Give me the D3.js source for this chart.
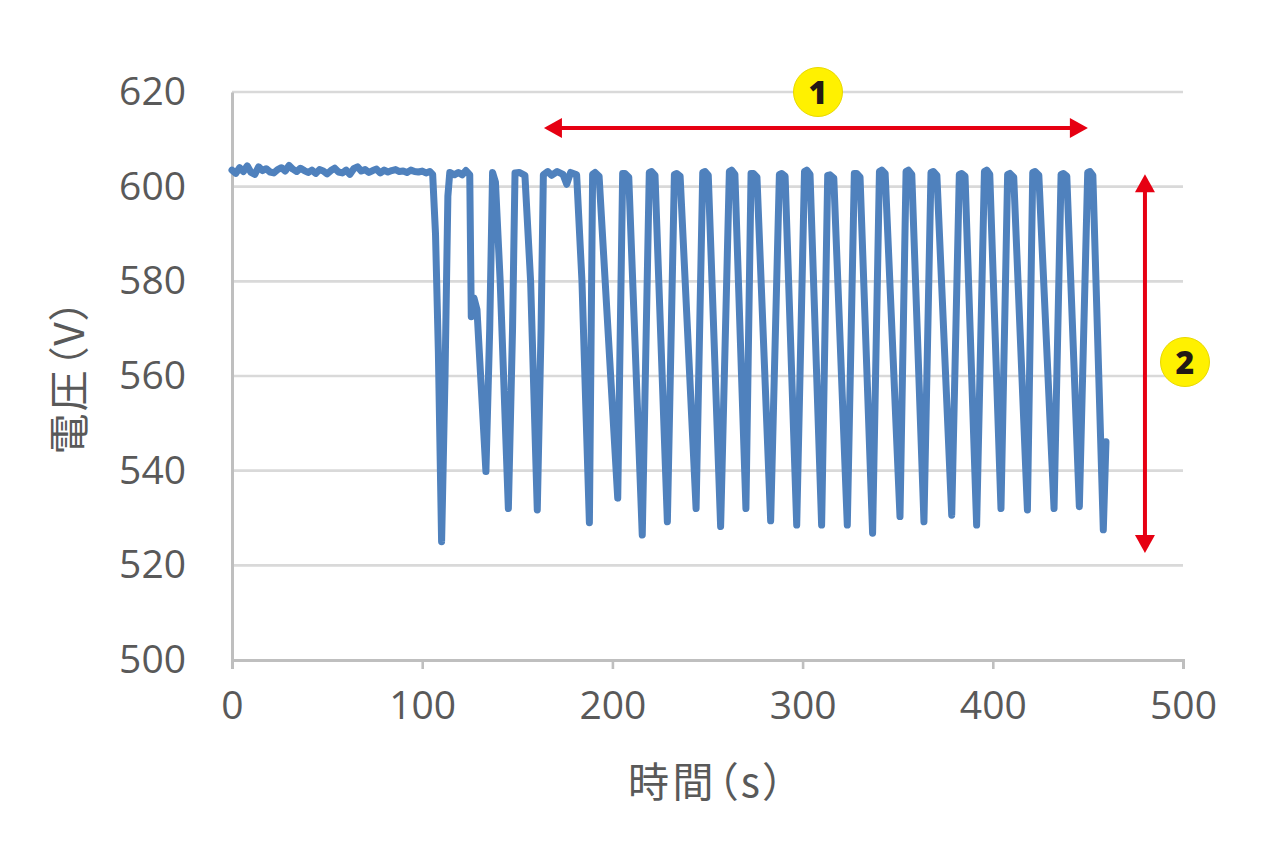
<!DOCTYPE html>
<html><head><meta charset="utf-8">
<script src="https://cdn.jsdelivr.net/npm/d3@7"></script>
<style>body{margin:0;background:#fff}</style>
</head><body>
<svg id="c" width="1272" height="864"></svg>
<script>
// ---- data ----
const xTicks = [0, 100, 200, 300, 400, 500];
const yTicks = [500, 520, 540, 560, 580, 600, 620];
const xTitle = "時間（s）";
const yTitle = "電圧（V）";

const timeS = [
  0,2,4,6,8,10,12,14,16,18,20,22,24,26,28,30,32,34,36,38,40,42,44,46,48,50,
  52,54,56,58,60,62,64,66,68,70,72,74,76,78,80,82,84,86,88,90,92,94,96,98,100,102,104,
  105.5,107,108.5,110.2,112,113.5,114.5,117,119,121,123,125,125.8,127.2,128.8,131,133.5,135.5,
  137,138.5,141,145.3,147.5,148.8,151,154,157,160.5,162.5,163.7,166,168,171,174,176,178,181.2,184,187.9,
  189.6,190.9,193,202.8,
  205.4,206.6,208.6,215.7,
  219.4,220.6,222.4,228.9,
  232.6,233.8,235.6,244.0,
  247.5,248.7,250.4,256.9,
  261.5,262.7,264.4,270.2,
  272.9,274.1,276.0,283.2,
  287.8,289.0,290.8,296.9,
  301.0,302.2,303.9,310.0,
  313.2,314.4,316.4,323.5,
  327.2,328.4,330.2,336.8,
  340.4,341.6,343.4,351.2,
  354.4,355.6,357.4,363.8,
  367.5,368.7,370.6,378.4,
  382.4,383.6,385.4,391.5,
  395.6,396.8,398.4,404.3,
  407.8,409.0,411.0,418.2,
  421.0,422.2,424.2,432.2,
  435.9,437.1,438.9,445.5,
  449.9,451.1,452.6,458.1,
  459.5
];
const voltageV = [
  603.5,602.8,604.0,603.2,604.4,603.0,602.6,604.2,603.4,603.8,603.1,602.9,603.6,604.0,603.3,604.5,
  603.7,603.2,603.9,603.4,603.0,603.5,602.8,603.6,603.3,602.7,603.4,603.9,603.1,602.9,603.5,602.6,
  603.8,604.2,603.3,603.6,603.0,603.4,603.7,602.9,603.5,603.1,603.4,603.6,603.2,603.3,603.0,603.5,
  603.2,603.1,603.3,602.9,603.2,
  602.6,590,565,525,560,598,603,602.5,603,602.5,603.4,602.5,572.5,576.5,574,558,539.8,570,
  603,601,580,532,570,602.9,603,602.4,580,531.7,570,602.5,603.2,602.4,603.2,602.6,600.5,603,602.5,580,529,
  602.6,603.0,602.2,534.2,
  602.8,602.8,602.0,526.4,
  603.0,603.2,602.4,529.2,
  602.6,602.8,602.2,532.0,
  603.0,603.2,602.4,528.2,
  603.2,603.5,602.6,532.0,
  602.8,602.8,602.0,529.4,
  602.6,602.8,602.2,528.5,
  603.2,603.5,602.6,528.5,
  602.4,602.5,601.8,528.5,
  602.8,602.8,602.0,526.8,
  603.2,603.5,602.8,530.3,
  603.2,603.5,602.6,529.2,
  603.0,603.2,602.4,530.6,
  602.6,602.8,602.2,528.5,
  603.2,603.5,602.6,532.0,
  602.6,602.8,602.0,531.7,
  603.0,603.2,602.4,532.0,
  602.6,602.8,602.2,532.4,
  603.0,603.2,602.4,527.5,
  546.1
];

// annotation positions in data units
const arrow1 = {t0: 164, t1: 450, v: 612.4, label: "1"};
const arrow2 = {t: 480, v0: 602.6, v1: 522.6, label: "2"};

// ---- drawing ----
const svg = d3.select("#c");
const x = d3.scaleLinear().domain([0, 500]).range([232, 1183]);
const y = d3.scaleLinear().domain([500, 620]).range([660, 92]);
const numFont = "'Open Sans', 'Noto Sans', sans-serif";
const cjkFont = "'Noto Sans CJK JP', sans-serif";
const txt = "#595959";

// gridlines
svg.append("g").selectAll("line").data(yTicks.filter(d => d > 500)).join("line")
  .attr("x1", x(0)).attr("x2", x(500))
  .attr("y1", d => y(d)).attr("y2", d => y(d))
  .attr("stroke", "#d9d9d9").attr("stroke-width", 2.6);

// x axis
const xAxis = svg.append("g").attr("transform", `translate(0,${y(500)})`)
  .call(d3.axisBottom(x).tickValues(xTicks).tickSize(9).tickPadding(22).tickFormat(d3.format("d")));
xAxis.select(".domain").attr("stroke", "#bfbfbf").attr("stroke-width", 3);
xAxis.selectAll(".tick line").attr("stroke", "#bfbfbf").attr("stroke-width", 2.6);
xAxis.selectAll(".tick text").attr("fill", txt).attr("font-size", 39).attr("font-family", numFont);

// y axis
const yAxis = svg.append("g").attr("transform", `translate(${x(0)},0)`)
  .call(d3.axisLeft(y).tickValues(yTicks).tickSize(0).tickPadding(46).tickFormat(d3.format("d")));
yAxis.select(".domain").attr("stroke", "#bfbfbf").attr("stroke-width", 3);
yAxis.selectAll(".tick text").attr("fill", txt).attr("font-size", 39).attr("font-family", numFont);

// titles
svg.append("text").attr("x", 706).attr("y", 797).attr("text-anchor", "middle")
  .attr("font-family", cjkFont).attr("font-size", 41).attr("fill", txt)
  .attr("textLength", 156).attr("lengthAdjust", "spacing")
  .style("font-feature-settings", "'palt'").text(xTitle);
svg.append("text").attr("transform", "translate(84,377) rotate(-90)").attr("text-anchor", "middle")
  .attr("font-family", cjkFont).attr("font-size", 41).attr("fill", txt)
  .attr("textLength", 155).attr("lengthAdjust", "spacing")
  .style("font-feature-settings", "'palt'").text(yTitle);

// data line
const pts = timeS.map((t, i) => [t, voltageV[i]]);
svg.append("path").datum(pts)
  .attr("d", d3.line().x(d => x(d[0])).y(d => y(d[1])))
  .attr("fill", "none").attr("stroke", "#4f81bd").attr("stroke-width", 7)
  .attr("stroke-linejoin", "round").attr("stroke-linecap", "round");

// annotations
const red = "#e60012";
const ah = 18, aw = 10;
{
  const xa = x(arrow1.t0), xb = x(arrow1.t1), ya = y(arrow1.v);
  svg.append("line").attr("x1", xa + ah - 2).attr("x2", xb - ah + 2).attr("y1", ya).attr("y2", ya)
    .attr("stroke", red).attr("stroke-width", 4);
  svg.append("path").attr("d", `M${xa},${ya}L${xa+ah},${ya-aw}L${xa+ah},${ya+aw}Z`).attr("fill", red);
  svg.append("path").attr("d", `M${xb},${ya}L${xb-ah},${ya-aw}L${xb-ah},${ya+aw}Z`).attr("fill", red);
  svg.append("circle").attr("cx", 818).attr("cy", 92).attr("r", 24.5)
    .attr("fill", "#fff100").attr("stroke", "#e8d800").attr("stroke-width", 1);
  svg.append("text").attr("x", 818).attr("y", 92).attr("dy", "0.36em").attr("text-anchor", "middle")
    .attr("font-family", "'Noto Sans', 'DejaVu Sans', sans-serif").attr("font-weight", 900)
    .attr("font-size", 32).attr("fill", "#231815").text(arrow1.label);
}
{
  const xa = x(arrow2.t), ya = y(arrow2.v0), yb = y(arrow2.v1);
  svg.append("line").attr("x1", xa).attr("x2", xa).attr("y1", ya + ah - 2).attr("y2", yb - ah + 2)
    .attr("stroke", red).attr("stroke-width", 4);
  svg.append("path").attr("d", `M${xa},${ya}L${xa-aw},${ya+ah}L${xa+aw},${ya+ah}Z`).attr("fill", red);
  svg.append("path").attr("d", `M${xa},${yb}L${xa-aw},${yb-ah}L${xa+aw},${yb-ah}Z`).attr("fill", red);
  svg.append("circle").attr("cx", 1185).attr("cy", 362).attr("r", 24.5)
    .attr("fill", "#fff100").attr("stroke", "#e8d800").attr("stroke-width", 1);
  svg.append("text").attr("x", 1185).attr("y", 362).attr("dy", "0.36em").attr("text-anchor", "middle")
    .attr("font-family", "'Noto Sans', 'DejaVu Sans', sans-serif").attr("font-weight", 900)
    .attr("font-size", 32).attr("fill", "#231815").text(arrow2.label);
}
</script>
</body></html>
